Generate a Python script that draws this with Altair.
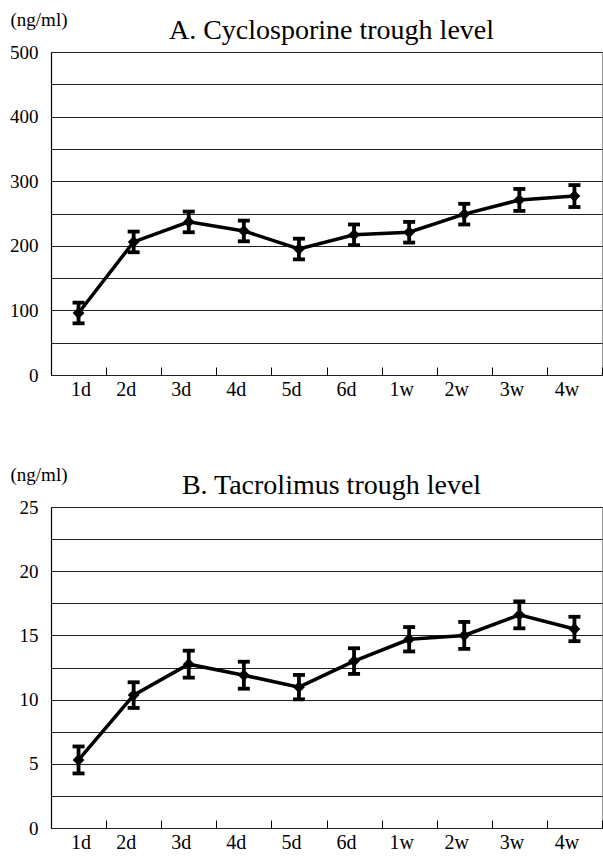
import altair as alt
import pandas as pd

categories = ["1d", "2d", "3d", "4d", "5d", "6d", "1w", "2w", "3w", "4w"]

csa_mean = [96, 206, 237, 223, 195, 217, 221, 249, 271, 277]
csa_err = [16, 16, 16, 16, 16, 16, 16, 16, 17, 17]
csa_ticks = [0, 50, 100, 150, 200, 250, 300, 350, 400, 450, 500]

tac_mean = [5.3, 10.35, 12.76, 11.9, 10.97, 13.0, 14.7, 15.0, 16.6, 15.5]
tac_err = [1.05, 1.0, 1.05, 1.05, 0.95, 1.0, 0.95, 1.05, 1.05, 0.95]
tac_ticks = [0, 2.5, 5, 7.5, 10, 12.5, 15, 17.5, 20, 22.5, 25]

FONT = "Liberation Serif"


def panel(title, means, errs, ticks, label_step, height):
    df = pd.DataFrame({
        "t": categories,
        "m": means,
        "lo": [m - e for m, e in zip(means, errs)],
        "hi": [m + e for m, e in zip(means, errs)],
    })
    ymax = ticks[-1]
    xenc = alt.X(
        "t:N", sort=categories,
        scale=alt.Scale(type="band", paddingInner=0, paddingOuter=0),
        axis=alt.Axis(
            title=None, orient="bottom", domain=False, grid=False,
            ticks=True, tickBand="extent", tickSize=8, tickColor="#000",
            tickWidth=1, offset=-8, labelPadding=4, labelAngle=0,
            labelFont=FONT, labelFontSize=20, labelColor="#000",
            labelOffset={"condition": {"test": "datum.value == '1d'", "value": 2}, "value": -8},
        ),
    )
    yscale = alt.Scale(domain=[0, ymax], nice=False, zero=True)
    yaxis = alt.Axis(
        values=ticks,
        labelExpr=f"datum.value % {label_step} == 0 ? datum.label : ''",
        grid=True, gridColor="#222", gridWidth=1, gridOpacity=1,
        domain=True, domainColor="#000", domainWidth=1.2,
        ticks=False, labelPadding=13,
        labelFont=FONT, labelFontSize=19, labelColor="#000",
        title="(ng/ml)", titleAngle=0, titleAlign="left",
        titleBaseline="alphabetic", titleX=-41, titleY=-27,
        titleFont=FONT, titleFontSize=19, titleFontWeight="normal",
        titleColor="#000",
    )
    base = alt.Chart(df)
    line = base.mark_line(color="#000", strokeWidth=3.5).encode(
        x=xenc, y=alt.Y("m:Q", scale=yscale, axis=yaxis)
    )
    pts = base.mark_point(shape="diamond", filled=True, size=140, color="#000", opacity=1).encode(
        x=xenc, y=alt.Y("m:Q", scale=yscale, axis=yaxis)
    )
    bars = base.mark_rule(color="#000", strokeWidth=3.8).encode(
        x=xenc, y=alt.Y("lo:Q", scale=yscale, axis=yaxis), y2="hi:Q"
    )
    cap_lo = base.mark_tick(color="#000", thickness=3.8, size=12, opacity=1).encode(
        x=xenc, y=alt.Y("lo:Q", scale=yscale, axis=yaxis)
    )
    cap_hi = base.mark_tick(color="#000", thickness=3.8, size=12, opacity=1).encode(
        x=xenc, y=alt.Y("hi:Q", scale=yscale, axis=yaxis)
    )
    return alt.layer(bars, cap_lo, cap_hi, line, pts).properties(
        width=551, height=height,
        title=alt.TitleParams(title, anchor="middle", frame="group", font=FONT,
                              fontSize=28, fontWeight="normal", color="#000",
                              offset=-35, dx=5),
    )


pA = panel("A. Cyclosporine trough level", csa_mean, csa_err, csa_ticks, 100, 323)
pB = panel("B. Tacrolimus trough level", tac_mean, tac_err, tac_ticks, 5, 321)

chart = alt.vconcat(pA, pB, spacing=64).properties(
    padding={"left": 9, "top": 9, "right": 0, "bottom": 0}
).configure(
    background="white", font=FONT,
    style={"guide-label": {"font": FONT}, "guide-title": {"font": FONT}},
).configure_view(stroke="#999", strokeWidth=1)

chart.save("out.html", embed_options={"renderer": "svg", "actions": False})
